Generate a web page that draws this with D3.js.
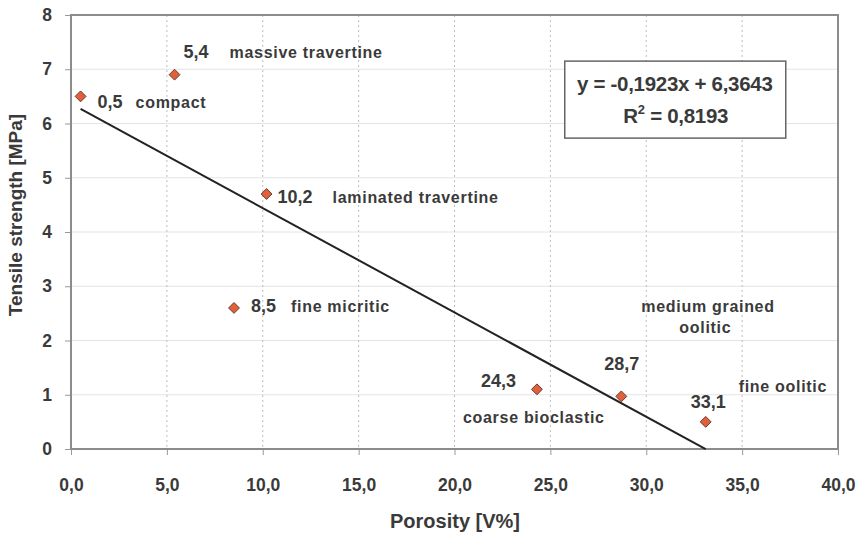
<!DOCTYPE html>
<html>
<head>
<meta charset="utf-8">
<script src="https://cdn.jsdelivr.net/npm/d3@7"></script>
<style>
  body { margin: 0; background: #fff; }
  text { font-family: "Liberation Sans", Arial, sans-serif; font-weight: bold; fill: #3a3a3a; }
</style>
</head>
<body>
<div id="chart"></div>
<script>
// Data
var porosity = [0.5, 5.4, 10.2, 8.5, 24.3, 28.7, 33.1];
var strength = [6.5, 6.9, 4.7, 2.6, 1.1, 0.97, 0.5];
var valueLabels = ["0,5", "5,4", "10,2", "8,5", "24,3", "28,7", "33,1"];
var rockNames = ["compact", "massive travertine", "laminated travertine", "fine micritic",
                 "coarse bioclastic", "medium grained|oolitic", "fine oolitic"];
var xTicks = [0, 5, 10, 15, 20, 25, 30, 35, 40];
var yTicks = [0, 1, 2, 3, 4, 5, 6, 7, 8];
var slope = -0.1923, intercept = 6.3643;
var trendX = [0.5, 33.1];

var svgWidth = 863;
var svgHeight = 537;
var margin = { top: 15, right: 25, bottom: 88, left: 71 };
var width = svgWidth - margin.left - margin.right;
var height = svgHeight - margin.top - margin.bottom;

var svg = d3.select("#chart").append("svg")
  .attr("width", svgWidth)
  .attr("height", svgHeight);

var chartGroup = svg.append("g")
  .attr("transform", `translate(${margin.left}, ${margin.top})`);

var x = d3.scaleLinear().domain([0, 40]).range([0, width]);
var y = d3.scaleLinear().domain([0, 8]).range([height, 0]);

// horizontal grid
chartGroup.selectAll(".hgrid").data(yTicks.slice(1, -1)).enter().append("line")
  .attr("x1", 0).attr("x2", width)
  .attr("y1", d => y(d)).attr("y2", d => y(d))
  .attr("stroke", "#e4e4e4").attr("stroke-width", 1.2);

// vertical dotted grid
chartGroup.selectAll(".vgrid").data(xTicks.slice(1, -1)).enter().append("line")
  .attr("x1", d => x(d)).attr("x2", d => x(d))
  .attr("y1", 0).attr("y2", height)
  .attr("stroke", "#bdbdbd").attr("stroke-width", 1)
  .attr("stroke-dasharray", "2,3");

// axes
var bottomAxis = d3.axisBottom(x).tickValues(xTicks)
  .tickFormat(d => d3.format(".1f")(d).replace(".", ","))
  .tickSize(6).tickPadding(24);
var leftAxis = d3.axisLeft(y).tickValues(yTicks).tickSize(6).tickPadding(13);

var gx = chartGroup.append("g").attr("transform", `translate(0, ${height})`).call(bottomAxis);
var gy = chartGroup.append("g").call(leftAxis);
[gx, gy].forEach(function(g) {
  g.select(".domain").remove();
  g.selectAll("line").attr("stroke", "#999");
  g.selectAll("text").style("font-size", "17.5px").style("font-family", "Liberation Sans, Arial, sans-serif")
    .style("font-weight", "bold").attr("fill", "#3a3a3a");
});

// plot frame
chartGroup.append("rect")
  .attr("x", 0).attr("y", 0).attr("width", width).attr("height", height)
  .attr("fill", "none").attr("stroke", "#8c8c8c").attr("stroke-width", 2);

// trend line
var line = d3.line().x(d => x(d)).y(d => y(slope * d + intercept));
chartGroup.append("path")
  .datum(trendX)
  .attr("d", line)
  .attr("fill", "none")
  .attr("stroke", "#222")
  .attr("stroke-width", 2);

// points
var pts = porosity.map((p, i) => ({ p: p, s: strength[i], v: valueLabels[i], n: rockNames[i] }));
chartGroup.selectAll(".pt").data(pts).enter().append("path")
  .attr("d", d3.symbol().type(d3.symbolDiamond2).size(75))
  .attr("transform", d => `translate(${x(d.p)}, ${y(d.s)})`)
  .attr("fill", "#e0603c")
  .attr("stroke", "#6b3a2a")
  .attr("stroke-width", 1);

// value labels, offsets relative to each point
var valueOffsets = [[17, 12], [9, -17], [11, 9], [17, 4], [-56, -2], [-17, -26], [-15, -14]];
chartGroup.selectAll(".val").data(pts).enter().append("text")
  .attr("x", (d, i) => x(d.p) + valueOffsets[i][0])
  .attr("y", (d, i) => y(d.s) + valueOffsets[i][1])
  .style("font-size", "18px")
  .text(d => d.v);

var nameOffsets = [[55, 12], [55, -17], [66, 9], [57, 4], [-74, 34], [20, -84], [33, -30]];
chartGroup.selectAll(".name").data(pts).enter().append("text")
  .attr("x", (d, i) => x(d.p) + nameOffsets[i][0])
  .attr("y", (d, i) => y(d.s) + nameOffsets[i][1])
  .style("font-size", "16px")
  .style("letter-spacing", "0.7px")
  .each(function(d, i) {
    var parts = d.n.split("|");
    var t = d3.select(this);
    if (parts.length === 1) { t.text(d.n); return; }
    parts.forEach(function(s, k) {
      t.append("tspan")
        .attr("x", x(d.p) + nameOffsets[i][0] + (k === 0 ? 0 : 38))
        .attr("dy", k === 0 ? 0 : 21)
        .text(s);
    });
  });

// equation box
var box = chartGroup.append("g").attr("transform", `translate(${x(25.75)}, ${y(7.15)})`);
box.append("rect").attr("x", 0).attr("y", 0).attr("width", 221).attr("height", 77)
  .attr("fill", "#fff").attr("stroke", "#666").attr("stroke-width", 1.5);
box.append("text").attr("x", 110).attr("y", 30).attr("text-anchor", "middle")
  .style("font-size", "20.5px").style("letter-spacing", "-0.3px").text("y = -0,1923x + 6,3643");
var r2 = box.append("text").attr("x", 111).attr("y", 62).attr("text-anchor", "middle")
  .style("font-size", "20.5px").style("letter-spacing", "-0.3px");
r2.append("tspan").text("R");
r2.append("tspan").attr("dy", -9).style("font-size", "13px").text("2");
r2.append("tspan").attr("dy", 9).text(" = 0,8193");

// axis titles
svg.append("text")
  .attr("x", 455)
  .attr("y", 528)
  .attr("text-anchor", "middle")
  .style("font-size", "20px")
  .text("Porosity [V%]");

svg.append("text")
  .attr("transform", `translate(22, 215) rotate(-90)`)
  .attr("text-anchor", "middle")
  .style("font-size", "19px")
  .text("Tensile strength [MPa]");
</script>
</body>
</html>
